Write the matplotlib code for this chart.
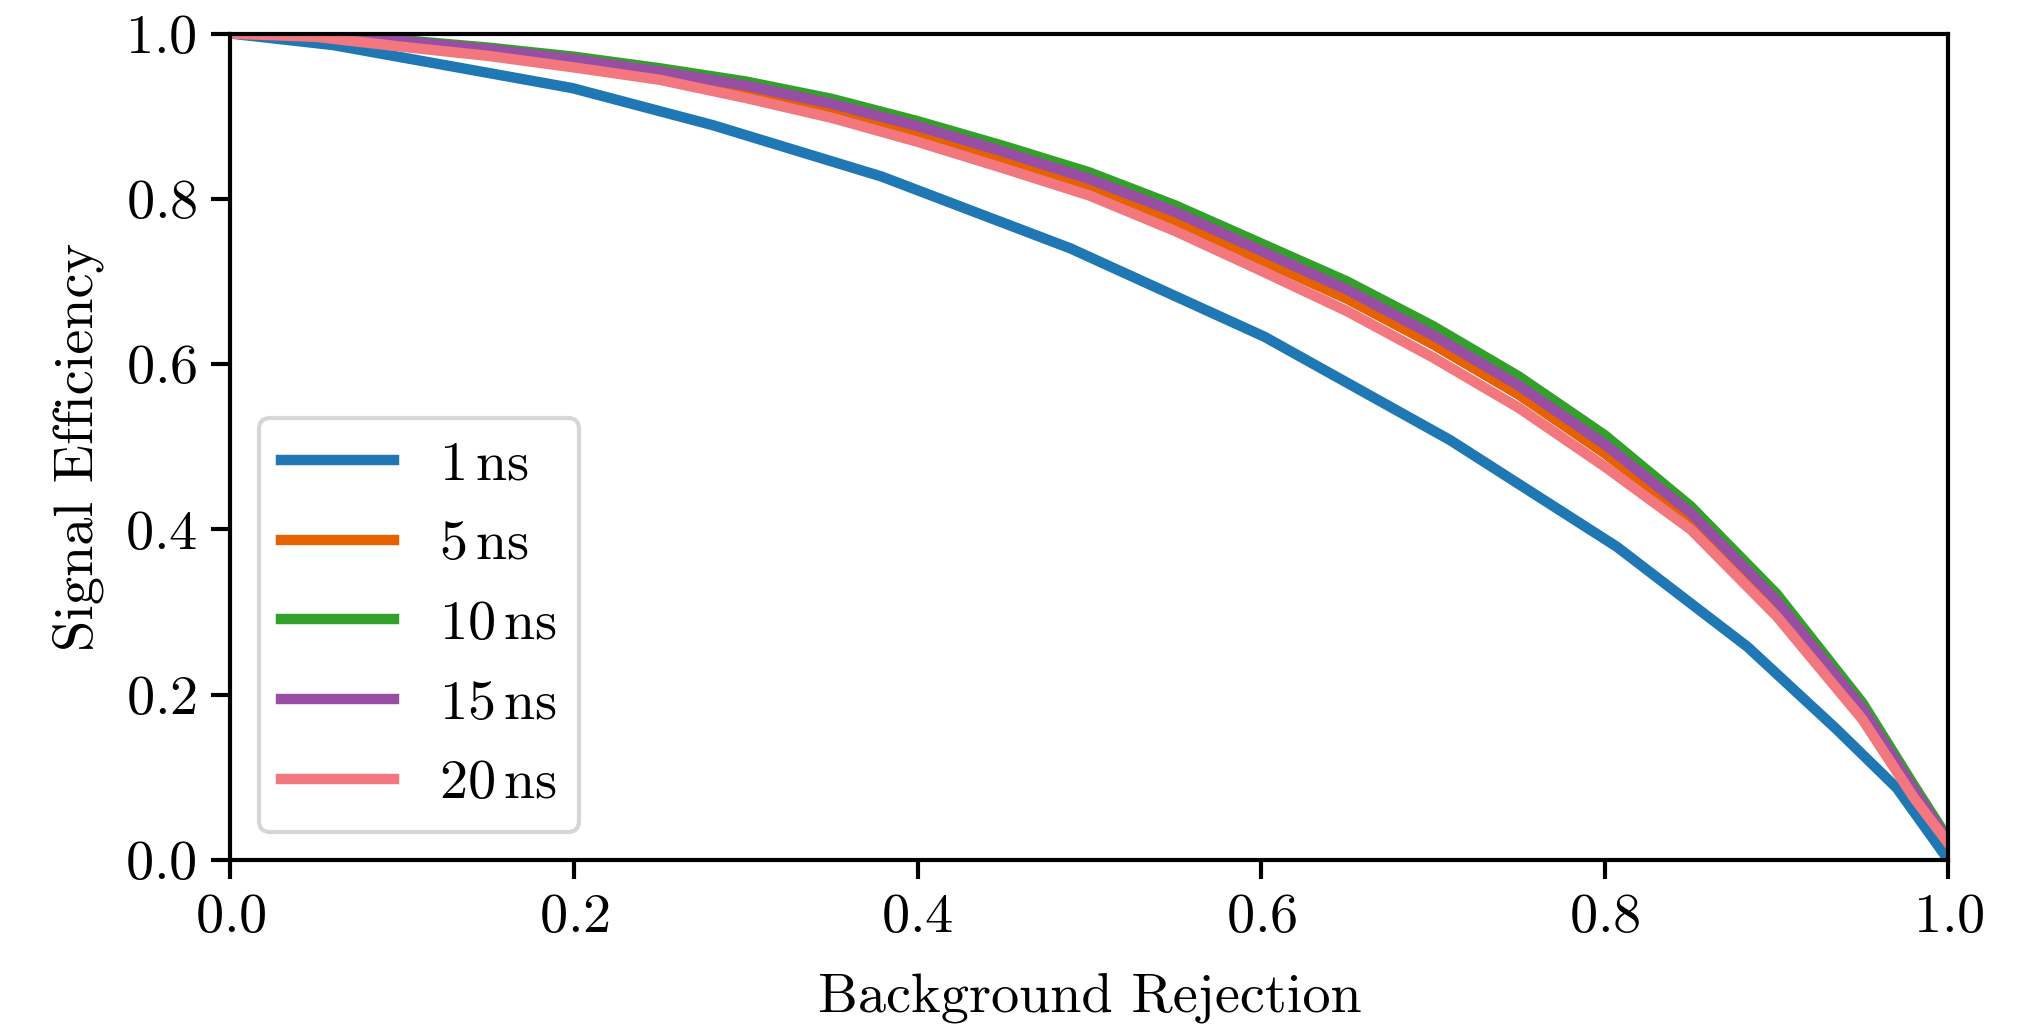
import numpy as np
import matplotlib
matplotlib.use('Agg')
import matplotlib.pyplot as plt

plt.rcParams['font.family'] = 'cmr10'
plt.rcParams['mathtext.fontset'] = 'cm'
plt.rcParams['axes.formatter.use_mathtext'] = True
plt.rcParams['font.size'] = 13.5

# background rejection / signal efficiency
x_1ns = [0.0, 0.06, 0.135, 0.199, 0.281, 0.379, 0.489, 0.602, 0.710, 0.807, 0.883, 0.935, 0.970, 1.0]
y_1ns = [1.0, 0.986, 0.958, 0.934, 0.889, 0.827, 0.740, 0.633, 0.508, 0.379, 0.258, 0.158, 0.087, 0.0]

x_grid = [0.0, 0.05, 0.10, 0.15, 0.20, 0.25, 0.30, 0.35, 0.40, 0.45, 0.50,
          0.55, 0.60, 0.65, 0.70, 0.75, 0.80, 0.85, 0.90, 0.95, 0.98, 1.0]
y_5ns = [1.0, 0.997, 0.988, 0.977, 0.964, 0.950, 0.930, 0.907, 0.879, 0.848, 0.815,
         0.774, 0.726, 0.679, 0.624, 0.563, 0.492, 0.412, 0.306, 0.176, 0.080, 0.020]
y_10ns = [1.0, 0.998, 0.992, 0.983, 0.972, 0.958, 0.942, 0.921, 0.894, 0.864, 0.832,
          0.792, 0.746, 0.700, 0.646, 0.585, 0.514, 0.428, 0.322, 0.190, 0.090, 0.025]
y_15ns = [1.0, 0.998, 0.991, 0.981, 0.969, 0.954, 0.937, 0.915, 0.888, 0.857, 0.824,
          0.784, 0.737, 0.690, 0.635, 0.574, 0.503, 0.420, 0.314, 0.183, 0.085, 0.022]
y_20ns = [1.0, 0.996, 0.984, 0.973, 0.959, 0.944, 0.922, 0.898, 0.869, 0.837, 0.804,
          0.761, 0.713, 0.664, 0.608, 0.547, 0.476, 0.400, 0.295, 0.170, 0.075, 0.020]

labels = [r'$1\,\mathrm{ns}$', r'$5\,\mathrm{ns}$', r'$10\,\mathrm{ns}$',
          r'$15\,\mathrm{ns}$', r'$20\,\mathrm{ns}$']
colors = ['#1f77b4', '#e66100', '#33a02c', '#984ea3', '#f2777f']

fig = plt.figure(figsize=(2043 / 300, 1026 / 300), dpi=300)
ax = fig.add_axes([0.1128, 0.1618, 0.9537 - 0.1128, 0.9673 - 0.1618])

ax.plot(x_1ns, y_1ns, color=colors[0], lw=2.5, label=labels[0])
ax.plot(x_grid, y_5ns, color=colors[1], lw=2.5, label=labels[1])
ax.plot(x_grid, y_10ns, color=colors[2], lw=2.5, label=labels[2])
ax.plot(x_grid, y_15ns, color=colors[3], lw=2.5, label=labels[3])
ax.plot(x_grid, y_20ns, color=colors[4], lw=2.5, label=labels[4])

ax.set_xlim(0, 1)
ax.set_ylim(0, 1)
ax.set_xlabel('Background Rejection', labelpad=7)
ax.set_ylabel('Signal Efficiency', labelpad=5)
ax.tick_params(width=1, length=4.5)
for s in ax.spines.values():
    s.set_linewidth(1)

ax.legend(loc='lower left', handlelength=2.0, borderaxespad=0.5, labelspacing=0.52)

fig.savefig('out.png', dpi=300)
